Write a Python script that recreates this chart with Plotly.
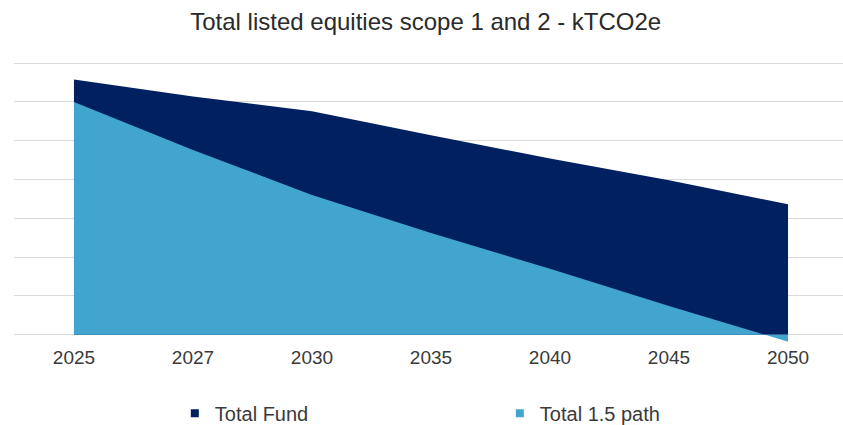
import plotly.graph_objects as go

years = ["2025", "2027", "2030", "2035", "2040", "2045", "2050"]
total_fund = [329, 307, 288, 257, 227, 199, 168]
total_path = [300, 238, 180, 131, 85, 37, -9]

DARK = "#002060"
LIGHT = "#41A5D0"
TXT = "#3a3a3a"
FONT = "Liberation Sans, Arial, sans-serif"

fig = go.Figure()
fig.add_trace(go.Scatter(x=years, y=total_fund, mode="lines", fill="tozeroy",
                         line=dict(width=0, color=DARK), fillcolor=DARK,
                         name="Total Fund", showlegend=False))
fig.add_trace(go.Scatter(x=years, y=total_path, mode="lines", fill="tozeroy",
                         line=dict(width=0, color=LIGHT), fillcolor=LIGHT,
                         name="Total 1.5 path", showlegend=False))
# legend entries (small squares as in the original)
fig.add_trace(go.Scatter(x=[None], y=[None], mode="markers", name="Total Fund",
                         marker=dict(symbol="square", size=8, color=DARK)))
fig.add_trace(go.Scatter(x=[None], y=[None], mode="markers", name="Total 1.5 path",
                         marker=dict(symbol="square", size=8, color=LIGHT)))

fig.update_layout(
    width=843, height=425,
    margin=dict(l=14, r=0, t=60, b=81, autoexpand=False),
    paper_bgcolor="white", plot_bgcolor="white",
    font=dict(family=FONT, color=TXT),
    title=dict(text="Total listed equities scope 1 and 2 - kTCO2e",
               x=0.505, xanchor="center", y=1 - 22 / 425, yanchor="middle",
               font=dict(size=24, color="#2a2a2a", family=FONT)),
    legend=dict(orientation="h", x=0.194, xanchor="left", y=-0.244, yanchor="middle",
                entrywidth=280, font=dict(size=20, color=TXT),
                bgcolor="rgba(0,0,0,0)"),
    xaxis=dict(type="category", range=[-0.504, 6.462], showgrid=False,
               showline=False, ticks="", tickfont=dict(size=19, color=TXT),
               fixedrange=True),
    yaxis=dict(range=[-12, 354], tick0=0, dtick=50, showgrid=True,
               gridcolor="#d9d9d9", gridwidth=1, zeroline=True,
               zerolinecolor="#d9d9d9", zerolinewidth=1,
               showticklabels=False, ticks="", fixedrange=True),
    showlegend=True,
)

fig.write_html("out.html")
